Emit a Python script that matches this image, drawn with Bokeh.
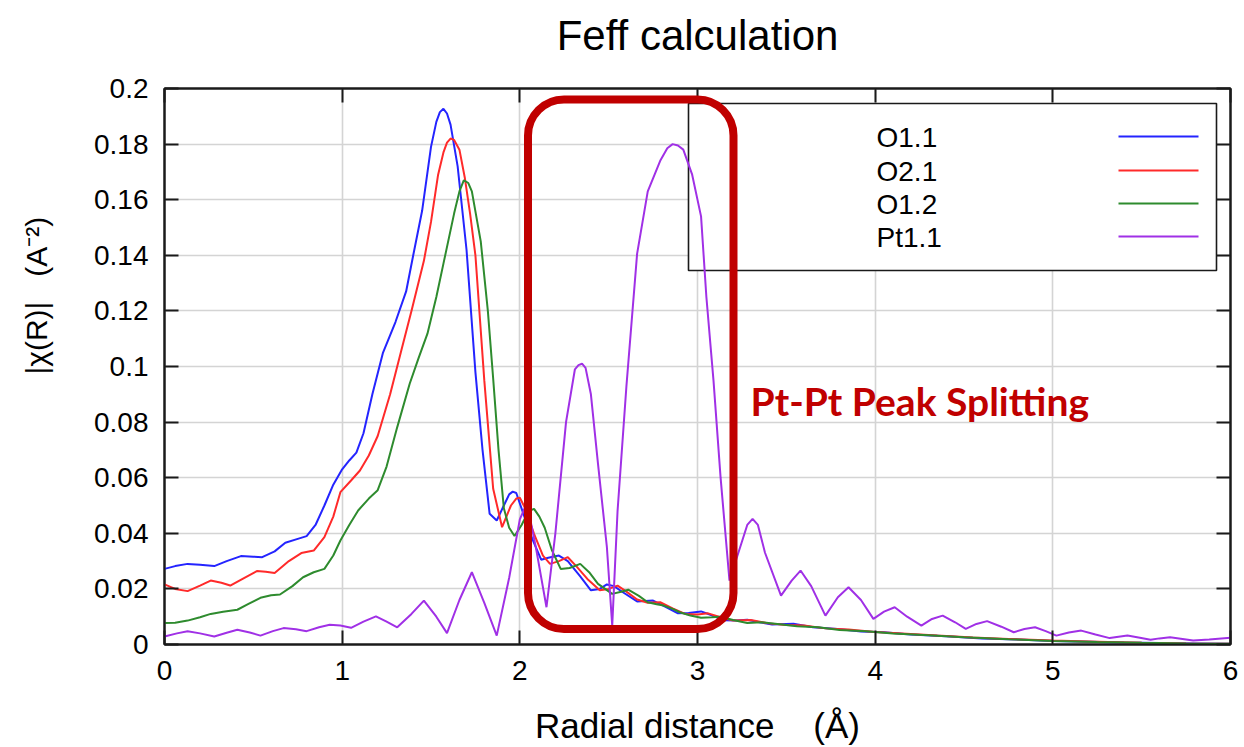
from bokeh.plotting import figure
from bokeh.models import Range1d, FixedTicker, LinearAxis, BoxAnnotation, Label
from bokeh.embed import file_html
from bokeh.resources import INLINE
from bokeh.core.properties import value

# ---------------- data ----------------
NB = "\u00a0"
TITLE = "Feff calculation"
X_LABEL = "Radial distance" + NB * 4 + "(Å)"
Y_LABEL = "|χ(R)|" + NB * 3 + "(A⁻²)"
ANNOTATION = "Pt-Pt Peak Splitting"

X_TICKS = [0, 1, 2, 3, 4, 5, 6]
X_TICK_LABELS = ["0", "1", "2", "3", "4", "5", "6"]
Y_TICKS = [0, 0.02, 0.04, 0.06, 0.08, 0.1, 0.12, 0.14, 0.16, 0.18, 0.2]
Y_TICK_LABELS = ["0", "0.02", "0.04", "0.06", "0.08", "0.1", "0.12", "0.14", "0.16", "0.18", "0.2"]

SERIES_NAMES = ["O1.1", "O2.1", "O1.2", "Pt1.1"]
SERIES_COLORS = ["#2424ff", "#ff2a2a", "#2e8b2e", "#a030e6"]

O11_R = [0.00, 0.06, 0.13, 0.20, 0.28, 0.35, 0.43, 0.50, 0.55, 0.62, 0.68, 0.75, 0.80, 0.85, 0.90,
         0.95, 1.00, 1.04, 1.08, 1.12, 1.17, 1.23, 1.30, 1.36, 1.40, 1.45, 1.50, 1.53, 1.55, 1.57,
         1.59, 1.61, 1.65, 1.70, 1.75, 1.79, 1.83, 1.87, 1.91, 1.94, 1.96, 1.98, 2.02, 2.07, 2.12,
         2.16, 2.22, 2.27, 2.34, 2.40, 2.45, 2.49, 2.53, 2.58, 2.66, 2.75, 2.82, 2.89, 2.95, 3.02,
         3.08, 3.15, 3.22, 3.28, 3.35, 3.42, 3.54, 3.65, 3.79, 3.92, 4.05, 4.20, 4.40, 4.60, 4.80,
         5.00, 5.20, 5.40, 5.60, 5.80, 6.00]
O11_CHI = [0.0272, 0.0282, 0.0290, 0.0287, 0.0282, 0.0300, 0.0318, 0.0316, 0.0314, 0.0335, 0.0366,
           0.0380, 0.0390, 0.0430, 0.0500, 0.0575, 0.0630, 0.0662, 0.0690, 0.0760, 0.0900, 0.1050,
           0.1160, 0.1270, 0.1400, 0.1560, 0.1790, 0.1880, 0.1915, 0.1927, 0.1910, 0.1870, 0.1720,
           0.1420, 0.0980, 0.0700, 0.0470, 0.0446, 0.0500, 0.0540, 0.0550, 0.0545, 0.0470, 0.0380,
           0.0305, 0.0312, 0.0320, 0.0300, 0.0245, 0.0195, 0.0200, 0.0216, 0.0210, 0.0188, 0.0155,
           0.0158, 0.0135, 0.0112, 0.0113, 0.0119, 0.0105, 0.0087, 0.0086, 0.0089, 0.0080, 0.0072,
           0.0075, 0.0062, 0.0056, 0.0047, 0.0044, 0.0036, 0.0030, 0.0022, 0.0018, 0.0013, 0.0010,
           0.0007, 0.0005, 0.0004, 0.0003]

O21_R = [0.00, 0.06, 0.13, 0.20, 0.26, 0.32, 0.37, 0.45, 0.52, 0.57, 0.62, 0.70, 0.77, 0.84, 0.90,
         0.95, 0.99, 1.05, 1.10, 1.15, 1.20, 1.27, 1.33, 1.39, 1.46, 1.50, 1.54, 1.57, 1.59, 1.61,
         1.63, 1.66, 1.69, 1.72, 1.75, 1.80, 1.85, 1.90, 1.95, 1.98, 2.00, 2.03, 2.08, 2.13, 2.17,
         2.22, 2.27, 2.32, 2.38, 2.45, 2.50, 2.55, 2.60, 2.66, 2.72, 2.79, 2.86, 2.93, 3.00, 3.06,
         3.13, 3.20, 3.30, 3.40, 3.50, 3.60, 3.72, 3.85, 4.00, 4.15, 4.35, 4.55, 4.75, 5.00, 5.25,
         5.50, 5.75, 6.00]
O21_CHI = [0.0216, 0.0200, 0.0192, 0.0212, 0.0230, 0.0222, 0.0212, 0.0240, 0.0264, 0.0262, 0.0257,
           0.0300, 0.0329, 0.0338, 0.0386, 0.0460, 0.0548, 0.0590, 0.0626, 0.0680, 0.0750, 0.0900,
           0.1050, 0.1200, 0.1380, 0.1520, 0.1690, 0.1770, 0.1805, 0.1820, 0.1815, 0.1780, 0.1680,
           0.1550, 0.1400, 0.0950, 0.0560, 0.0422, 0.0500, 0.0525, 0.0528, 0.0490, 0.0398, 0.0320,
           0.0290, 0.0300, 0.0314, 0.0280, 0.0236, 0.0195, 0.0200, 0.0212, 0.0190, 0.0162, 0.0150,
           0.0152, 0.0130, 0.0110, 0.0108, 0.0112, 0.0098, 0.0086, 0.0088, 0.0076, 0.0070, 0.0068,
           0.0058, 0.0054, 0.0045, 0.0040, 0.0032, 0.0025, 0.0020, 0.0014, 0.0010, 0.0006, 0.0004,
           0.0003]

O12_R = [0.00, 0.06, 0.13, 0.20, 0.26, 0.33, 0.41, 0.47, 0.54, 0.60, 0.65, 0.72, 0.78, 0.84, 0.90,
         0.95, 0.99, 1.04, 1.09, 1.15, 1.20, 1.25, 1.31, 1.38, 1.43, 1.48, 1.53, 1.57, 1.63, 1.66,
         1.685, 1.71, 1.73, 1.78, 1.82, 1.85, 1.88, 1.91, 1.94, 1.97, 2.01, 2.05, 2.08, 2.11, 2.14,
         2.18, 2.23, 2.28, 2.34, 2.39, 2.44, 2.52, 2.57, 2.61, 2.67, 2.72, 2.77, 2.81, 2.86, 2.90,
         2.96, 3.02, 3.08, 3.13, 3.20, 3.28, 3.36, 3.45, 3.56, 3.68, 3.80, 3.95, 4.10, 4.30, 4.50,
         4.75, 5.00, 5.25, 5.50, 5.75, 6.00]
O12_CHI = [0.0077, 0.0078, 0.0086, 0.0098, 0.0110, 0.0118, 0.0125, 0.0145, 0.0168, 0.0177, 0.0180,
           0.0210, 0.0242, 0.0260, 0.0272, 0.0320, 0.0374, 0.0430, 0.0482, 0.0525, 0.0555, 0.0640,
           0.0782, 0.0938, 0.1030, 0.1118, 0.1250, 0.1370, 0.1550, 0.1630, 0.1670, 0.1660, 0.1630,
           0.1450, 0.1200, 0.0956, 0.0700, 0.0490, 0.0420, 0.0390, 0.0430, 0.0480, 0.0488, 0.0460,
           0.0420, 0.0340, 0.0272, 0.0275, 0.0290, 0.0260, 0.0218, 0.0182, 0.0190, 0.0197, 0.0175,
           0.0152, 0.0145, 0.0140, 0.0128, 0.0116, 0.0104, 0.0096, 0.0098, 0.0100, 0.0088, 0.0077,
           0.0080, 0.0074, 0.0066, 0.0062, 0.0052, 0.0048, 0.0040, 0.0033, 0.0026, 0.0019, 0.0013,
           0.0009, 0.0006, 0.0004, 0.0003]

PT11_R = [0.00, 0.07, 0.13, 0.20, 0.28, 0.35, 0.41, 0.48, 0.54, 0.61, 0.67, 0.74, 0.80, 0.87,
          0.93, 0.99, 1.05, 1.12, 1.19, 1.25, 1.31, 1.39, 1.46, 1.53, 1.59, 1.66, 1.73, 1.80,
          1.87, 1.94, 2.00, 2.04, 2.09, 2.15, 2.20, 2.26, 2.31, 2.33, 2.35, 2.37, 2.40, 2.44,
          2.49, 2.52, 2.55, 2.60, 2.66, 2.72, 2.79, 2.83, 2.86, 2.89, 2.92, 2.97, 3.02, 3.05,
          3.09, 3.13, 3.18, 3.24, 3.28, 3.31, 3.34, 3.38, 3.47, 3.53, 3.58, 3.64, 3.72, 3.79,
          3.85, 3.92, 3.99, 4.05, 4.11, 4.18, 4.26, 4.32, 4.38, 4.45, 4.51, 4.57, 4.63, 4.71,
          4.78, 4.84, 4.90, 4.96, 5.02, 5.09, 5.16, 5.24, 5.32, 5.37, 5.42, 5.49, 5.55, 5.60,
          5.66, 5.72, 5.79, 5.88, 6.00]
PT11_CHI = [0.0029, 0.0040, 0.0048, 0.0040, 0.0029, 0.0042, 0.0053, 0.0043, 0.0032, 0.0048,
            0.0059, 0.0055, 0.0048, 0.0062, 0.0071, 0.0068, 0.0060, 0.0082, 0.0101, 0.0082,
            0.0062, 0.0110, 0.0158, 0.0100, 0.0041, 0.0160, 0.0260, 0.0150, 0.0032, 0.0240,
            0.0450, 0.0510, 0.0350, 0.0134, 0.0400, 0.0800, 0.0990, 0.1005, 0.1010, 0.0995,
            0.0900, 0.0650, 0.0350, 0.0068, 0.0480, 0.0930, 0.1405, 0.1630, 0.1740, 0.1785,
            0.1800, 0.1795, 0.1780, 0.1690, 0.1540, 0.1250, 0.0950, 0.0600, 0.0230, 0.0350,
            0.0430, 0.0452, 0.0430, 0.0330, 0.0176, 0.0230, 0.0266, 0.0210, 0.0104, 0.0170,
            0.0206, 0.0160, 0.0092, 0.0118, 0.0134, 0.0100, 0.0068, 0.0092, 0.0104, 0.0080,
            0.0056, 0.0074, 0.0084, 0.0064, 0.0044, 0.0056, 0.0062, 0.0048, 0.0032, 0.0043,
            0.0050, 0.0036, 0.0023, 0.0028, 0.0032, 0.0024, 0.0017, 0.0022, 0.0026, 0.0021,
            0.0014, 0.0018, 0.0024]

SERIES_R = [O11_R, O21_R, O12_R, PT11_R]
SERIES_CHI = [O11_CHI, O21_CHI, O12_CHI, PT11_CHI]

# ---------------- layout ----------------
W, H = 1244, 747
BORDER_L, BORDER_R, BORDER_T, BORDER_B = 164, 14, 88, 103
X0, X1, Y0, Y1 = 0, 6, 0, 0.2
FRAME_W = W - BORDER_L - BORDER_R
FRAME_H = H - BORDER_T - BORDER_B
FONT = "Liberation Sans"


def dx(px):
    """page pixel x -> data x"""
    return X0 + (px - BORDER_L) / FRAME_W * (X1 - X0)


def dy(py):
    """page pixel y -> data y"""
    return Y0 + (H - BORDER_B - py) / FRAME_H * (Y1 - Y0)


p = figure(width=W, height=H, output_backend="svg", toolbar_location=None,
           x_range=Range1d(X0, X1), y_range=Range1d(Y0, Y1),
           min_border_left=BORDER_L, min_border_right=BORDER_R,
           min_border_top=BORDER_T, min_border_bottom=BORDER_B,
           background_fill_color="white", border_fill_color="white")
p.outline_line_color = "#1a1a1a"
p.outline_line_width = 2

xt = FixedTicker(ticks=X_TICKS)
yt = FixedTicker(ticks=Y_TICKS)

bottom_ax = p.below[0]
left_ax = p.left[0]


def style_axis(ax, ticker, labels, show):
    ax.ticker = ticker
    ax.axis_line_color = "#1a1a1a"
    ax.axis_line_width = 2
    ax.major_tick_line_color = "#1a1a1a"
    ax.major_tick_line_width = 2
    ax.major_tick_in = 14
    ax.major_tick_out = 0
    ax.minor_tick_line_color = None
    if show:
        ax.major_label_overrides = dict(zip(ticker.ticks, labels))
        ax.major_label_text_font = FONT
        ax.major_label_text_font_size = "28px"
        ax.major_label_text_color = "black"
        ax.major_label_standoff = 16
    else:
        ax.major_label_text_font_size = "0px"
        ax.major_label_text_color = None
        ax.major_label_standoff = 0


style_axis(bottom_ax, xt, X_TICK_LABELS, True)
style_axis(left_ax, yt, Y_TICK_LABELS, True)
top_ax = LinearAxis()
right_ax = LinearAxis()
style_axis(top_ax, xt, X_TICK_LABELS, False)
style_axis(right_ax, yt, Y_TICK_LABELS, False)
p.add_layout(top_ax, "above")
p.add_layout(right_ax, "right")

# chart title, centred over the frame (carried by the mirrored top axis)
top_ax.axis_label = TITLE
top_ax.axis_label_text_font = FONT
top_ax.axis_label_text_font_size = "42px"
top_ax.axis_label_text_font_style = "normal"
top_ax.axis_label_text_color = "black"
top_ax.axis_label_standoff = 30

bottom_ax.axis_label = X_LABEL
bottom_ax.axis_label_text_font = FONT
bottom_ax.axis_label_text_font_size = "35px"
bottom_ax.axis_label_text_font_style = "normal"
bottom_ax.axis_label_text_color = "black"
bottom_ax.axis_label_standoff = 23

# leading no-break spaces lift the rotated label above the frame's centre, as in the original
left_ax.axis_label = NB * 17 + Y_LABEL
left_ax.axis_label_text_font = FONT
left_ax.axis_label_text_font_size = "30px"
left_ax.axis_label_text_font_style = "normal"
left_ax.axis_label_text_color = "black"
left_ax.axis_label_standoff = 38

p.xgrid.ticker = xt
p.ygrid.ticker = yt
for g in (p.xgrid[0], p.ygrid[0]):
    g.grid_line_color = "#d4d4d4"
    g.grid_line_width = 1.6

# legend box (under curves, over grid)
p.quad(left=[dx(688)], right=[dx(1216)], top=[dy(103)], bottom=[dy(270)],
       fill_color="white", line_color="#1a1a1a", line_width=1.6)

# curves
for r, c, col in zip(SERIES_R, SERIES_CHI, SERIES_COLORS):
    p.line(r, c, line_color=col, line_width=2)

# legend entries
row_y = [137, 171, 204, 237]
for name, col, ry in zip(SERIES_NAMES, SERIES_COLORS, row_y):
    p.text(x=[dx(876)], y=[dy(ry)], text=[name], text_font=value(FONT),
           text_font_size="28px", text_align="left", text_baseline="middle",
           text_color="black")
    p.segment(x0=[dx(1118)], y0=[dy(ry - 1)], x1=[dx(1198)], y1=[dy(ry - 1)],
              line_color=col, line_width=2)

# highlight
p.add_layout(BoxAnnotation(left=dx(527.5), right=dx(733), top=dy(99), bottom=dy(628.5),
                           fill_color=None, line_color="#C00000", line_alpha=1.0,
                           line_width=8, border_radius=36))
p.add_layout(Label(x=dx(750), y=dy(400), text=ANNOTATION, text_font="Lato",
                   text_font_style="bold", text_font_size="39px", text_align="left",
                   text_baseline="alphabetic", text_color="#C00000"))

open("out.html", "w").write(file_html(p, INLINE))
